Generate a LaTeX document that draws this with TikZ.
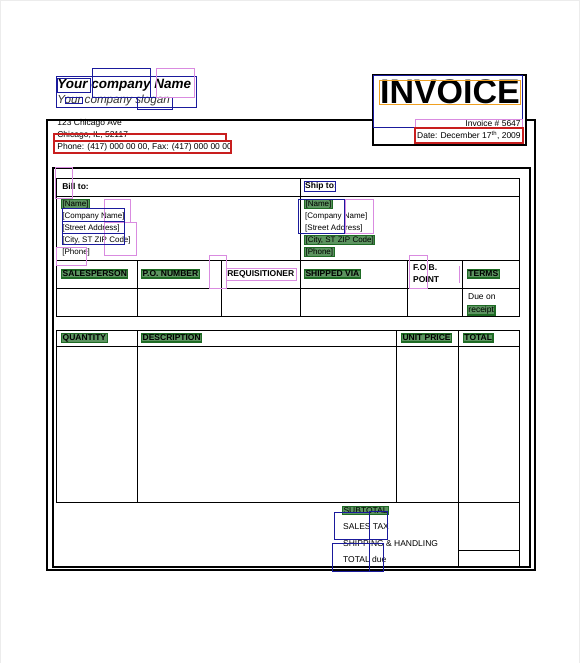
\documentclass[tikz,border=0pt]{standalone}
\usepackage{fontspec}
\setmainfont{Liberation Sans}
\definecolor{taggreen}{HTML}{1E6B24}
\definecolor{markblue}{HTML}{1A1A9C}
\definecolor{markred}{HTML}{C81E1E}
\definecolor{markviolet}{HTML}{D98BE0}
\definecolor{markorange}{HTML}{F0A020}
\begin{document}
\begin{tikzpicture}[x=1pt,y=-1pt,
    txt/.style={inner sep=0pt,anchor=west,font=\fontsize{8.5}{10}\selectfont},
    small/.style={txt,font=\fontsize{8}{10}\selectfont},
    head/.style={txt,font=\fontsize{8.5}{10}\selectfont\bfseries},
    tag/.style={draw=taggreen,line width=1.1pt,fill=taggreen,fill opacity=.72,text opacity=1,inner sep=1pt},
    frame/.style={line width=1.8pt},
    rule/.style={line width=0.9pt},
    mblue/.style={draw=markblue,line width=1pt},
    mred/.style={draw=markred,line width=1.4pt},
    mviolet/.style={draw=markviolet,line width=0.8pt},
    morange/.style={draw=markorange,line width=0.8pt}]
    \useasboundingbox[fill=white,draw=gray!15] (0,0) rectangle (579,663);
    \draw[frame] (47,120) rectangle (535,570);
    \draw[line width=1.4pt] (53,168) rectangle (530,567);
    \draw[rule] (56,178) rectangle (520,316);
    \draw[rule] (56,196) -- (520,196);
    \draw[rule] (56,260) -- (520,260);
    \draw[rule] (56,288) -- (520,288);
    \draw[rule] (300,178) -- (300,316);
    \draw[rule] (137,260) -- (137,316);
    \draw[rule] (221,260) -- (221,316);
    \draw[rule] (407,260) -- (407,316);
    \draw[rule] (463,260) -- (463,316);
    \draw[rule] (56,330) rectangle (520,503);
    \draw[rule] (56,346) -- (520,346);
    \draw[rule] (137,330) -- (137,503);
    \draw[rule] (396,330) -- (396,503);
    \draw[rule] (459,330) -- (459,567);
    \draw[rule] (520,503) -- (520,567);
    \draw[rule] (459,551) -- (520,551);
    \draw[frame,fill=white] (373,75) rectangle (526,145);
    \node[inner sep=0pt,anchor=west,font=\fontsize{13.5}{15}\selectfont\bfseries\itshape] (coname) at (57,85) {Your company Name};
    \node[inner sep=0pt,anchor=west,font=\fontsize{11.7}{13}\selectfont\itshape,text=black!80] (slogan) at (57,100) {Your company slogan};
    \node[txt] (street) at (57,123) {123 Chicago Ave};
    \node[txt] (city) at (57,135) {Chicago, IL, 52117};
    \node[txt] (phone) at (57,147) {Phone: (417) 000 00 00, Fax: (417) 000 00 00};
    \node[inner sep=0pt,font=\fontsize{34}{36}\selectfont\bfseries] (invoice) at (450,92) {INVOICE};
    \node[txt,anchor=east] (invno) at (521,123) {Invoice \# 5647};
    \node[txt,anchor=east] (date) at (521,135) {Date: December 17\textsuperscript{th}, 2009};
    \node[head] (billto) at (62,186) {Bill to:};
    \node[head] (shipto) at (305,186) {Ship to:};
    \node[small,tag] (billname) at (61,204) {[Name]};
    \node[small] (billco) at (62,216) {[Company Name]};
    \node[small] (billstreet) at (62,228) {[Street Address]};
    \node[small] (billcity) at (62,240) {[City, ST ZIP Code]};
    \node[small] (billphone) at (62,252) {[Phone]};
    \node[small,tag] (shipname) at (304,204) {[Name]};
    \node[small] (shipco) at (305,216) {[Company Name]};
    \node[small] (shipstreet) at (305,228) {[Street Address]};
    \node[small,tag] (shipcity) at (304,240) {[City, ST ZIP Code]};
    \node[small,tag] (shipphone) at (304,252) {[Phone]};
    \node[head,tag] (sales) at (61,274) {SALESPERSON};
    \node[head,tag] (ponum) at (141,274) {P.O. NUMBER};
    \node[head] (requis) at (227,274) {REQUISITIONER};
    \node[head,tag] (shipvia) at (304,274) {SHIPPED VIA};
    \node[head] (fob) at (413,268) {F.O.B.};
    \node[head] (point) at (413,280) {POINT};
    \node[head,tag] (terms) at (467,274) {TERMS};
    \node[txt] (dueon) at (468,297) {Due on};
    \node[txt,tag] (receipt) at (467,310) {receipt};
    \node[head,tag] (qty) at (61,338) {QUANTITY};
    \node[head,tag] (descr) at (141,338) {DESCRIPTION};
    \node[head,tag] (unitprice) at (401,338) {UNIT PRICE};
    \node[head,tag] (total) at (463,338) {TOTAL};
    \node[txt,tag] (subtotal) at (342,511) {SUBTOTAL};
    \node[txt] (salestax) at (343,527) {SALES TAX};
    \node[txt] (shipping) at (343,544) {SHIPPING \& HANDLING};
    \node[txt] (totaldue) at (343,560) {TOTAL due};
    \draw[mblue] (56,76) rectangle (196,107);
    \draw[mblue] (92,68) rectangle (150,97);
    \draw[mblue] (57,78) rectangle (90,92);
    \draw[mblue] (137,97) rectangle (172,109);
    \draw[mblue] (65,97) rectangle (82,103);
    \draw[mviolet] (156,68) rectangle (194,97);
    \draw[mblue] (374,75) rectangle (523,127);
    \draw[morange] (379,80) rectangle (521,104);
    \draw[mviolet] (415,119) rectangle (523,128);
    \draw[mred] (415,128) rectangle (523,143);
    \draw[mred] (54,134) rectangle (226,141);
    \draw[mred] (54,141) rectangle (231,153);
    \draw[mviolet] (55,167) rectangle (72,198);
    \draw[mviolet] (104,199) rectangle (130,222);
    \draw[mviolet] (104,222) rectangle (136,255);
    \draw[mviolet] (56,247) rectangle (86,265);
    \draw[mblue] (62,208) rectangle (124,244);
    \draw[mblue] (62,221) rectangle (124,233);
    \draw[mblue] (304,181) rectangle (335,191);
    \draw[mblue] (298,199) rectangle (345,233);
    \draw[mviolet] (345,199) rectangle (373,233);
    \draw[mviolet] (209,255) rectangle (226,288);
    \draw[mviolet] (226,268) rectangle (296,280);
    \draw[mviolet] (409,255) rectangle (427,288);
    \draw[mviolet] (459,266) -- (459,283);
    \draw[mblue] (334,513) rectangle (370,540);
    \draw[mblue] (370,512) rectangle (388,540);
    \draw[mblue] (332,544) rectangle (370,572);
    \draw[mblue] (370,544) rectangle (384,572);
\end{tikzpicture}
\end{document}
